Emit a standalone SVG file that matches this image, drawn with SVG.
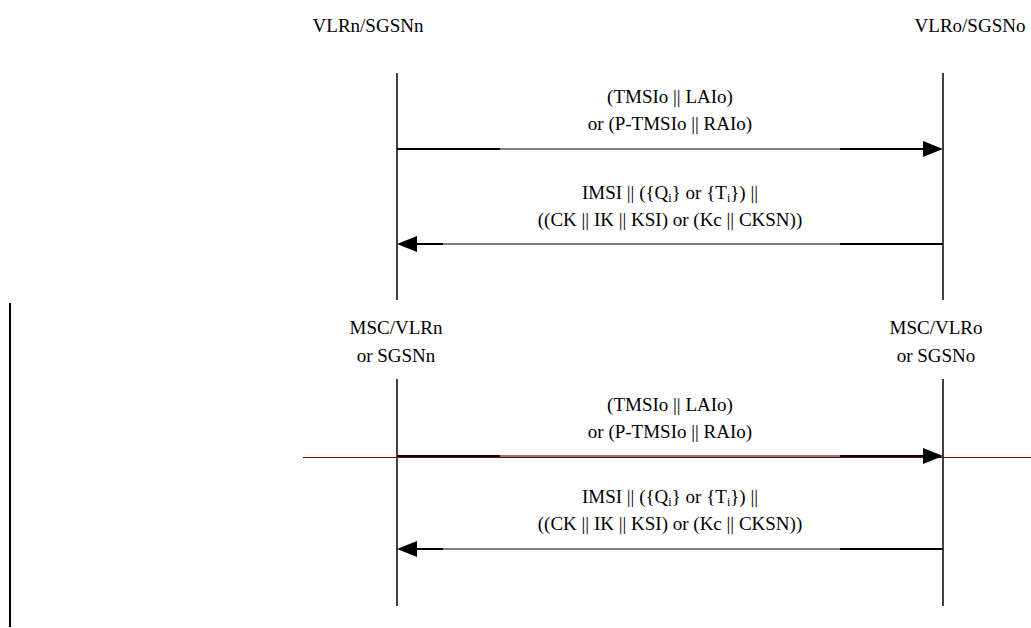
<svg xmlns="http://www.w3.org/2000/svg" width="1031" height="628" viewBox="0 0 1031 628">
<style>
text{font-family:"Liberation Serif","Times New Roman",serif;font-size:19px;fill:#000;text-anchor:middle}
.life{stroke:#000;stroke-width:1.5;fill:none}
.msg{stroke:#000;stroke-width:1.2;fill:none}
.msgk{stroke:#000;stroke-width:2;fill:none}
.head{fill:#000}
</style>
<rect width="1031" height="628" fill="#fff"/>
<g id="n-vlrn"><text x="368" y="32">VLRn/SGSNn</text><line class="life" x1="397" y1="73" x2="397" y2="300"/></g>
<g id="n-vlro"><text x="970" y="32">VLRo/SGSNo</text><line class="life" x1="943" y1="73" x2="943" y2="300"/></g>
<g id="n-mscn"><text x="396" y="334">MSC/VLRn</text><text x="396" y="362">or SGSNn</text><line class="life" x1="397" y1="379" x2="397" y2="606"/></g>
<g id="n-msco"><text x="936" y="334">MSC/VLRo</text><text x="936" y="362">or SGSNo</text><line class="life" x1="943" y1="379" x2="943" y2="606"/></g>
<g id="frame">
<line x1="10" y1="303" x2="10" y2="627" stroke="#000" stroke-width="2"/>
<line x1="303" y1="457.5" x2="1031" y2="457.5" stroke="#800000" stroke-width="1"/>
</g>
<g id="connectors">
<text x="670" y="103">(TMSIo || LAIo)</text>
<text x="670" y="130">or (P-TMSIo || RAIo)</text>
<line class="msgk" x1="397" y1="149" x2="500" y2="149"/>
<line class="msg" x1="500" y1="149" x2="840" y2="149"/>
<line class="msgk" x1="840" y1="149" x2="925" y2="149"/>
<polygon class="head" points="943,149 923,141 923,157"/>

<text x="670" y="199">IMSI || ({Q<tspan font-size="12" dy="3">i</tspan><tspan dy="-3">} or {T</tspan><tspan font-size="12" dy="3">i</tspan><tspan dy="-3">}) ||</tspan></text>
<text x="670" y="226">((CK || IK || KSI) or (Kc || CKSN))</text>
<line class="msgk" x1="415" y1="244" x2="443" y2="244"/>
<line class="msg" x1="443" y1="244" x2="840" y2="244"/>
<line class="msgk" x1="840" y1="244" x2="943" y2="244"/>
<polygon class="head" points="397,244 417,236 417,252"/>

<text x="670" y="411">(TMSIo || LAIo)</text>
<text x="670" y="438">or (P-TMSIo || RAIo)</text>
<line class="msgk" x1="397" y1="456" x2="500" y2="456"/>
<line class="msg" x1="500" y1="456" x2="840" y2="456"/>
<line class="msgk" x1="840" y1="456" x2="925" y2="456"/>
<polygon class="head" points="943,456 923,448 923,464"/>

<text x="670" y="503">IMSI || ({Q<tspan font-size="12" dy="3">i</tspan><tspan dy="-3">} or {T</tspan><tspan font-size="12" dy="3">i</tspan><tspan dy="-3">}) ||</tspan></text>
<text x="670" y="530">((CK || IK || KSI) or (Kc || CKSN))</text>
<line class="msgk" x1="415" y1="549" x2="443" y2="549"/>
<line class="msg" x1="443" y1="549" x2="840" y2="549"/>
<line class="msgk" x1="840" y1="549" x2="943" y2="549"/>
<polygon class="head" points="397,549 417,541 417,557"/>
</g>
</svg>
